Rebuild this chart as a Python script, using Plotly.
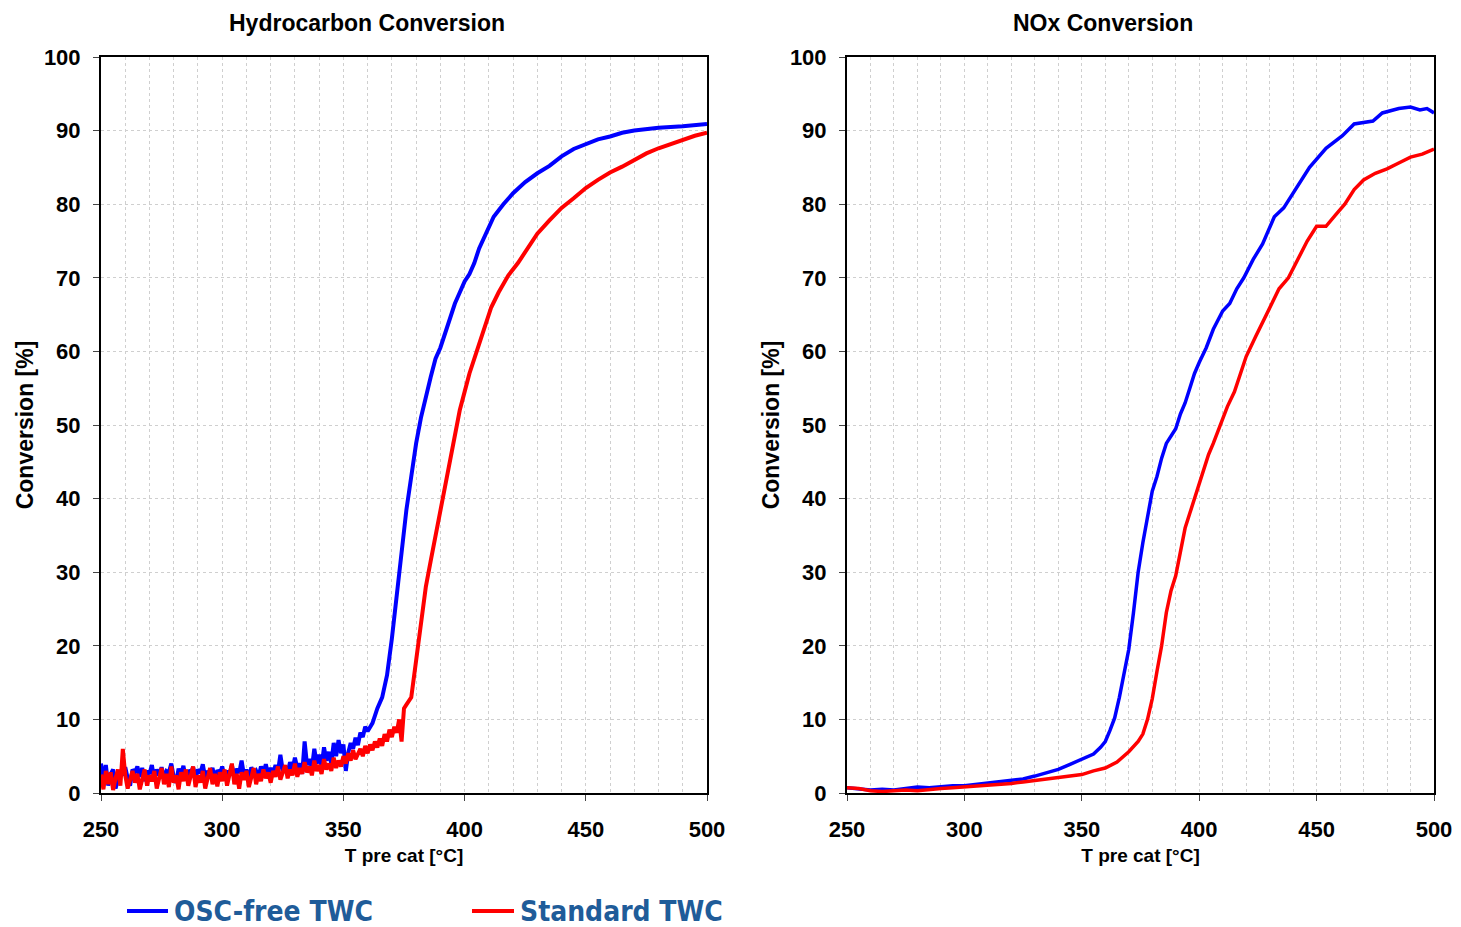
import plotly.graph_objects as go

# ---------------- data ----------------
# Hydrocarbon conversion, OSC-free TWC (1 degC steps through the noisy part)
hc_osc_T = list(range(250, 361)) + [362,364,366,368,370,372,374,376,378,380,382,384,386,388,390,392,
            394,396,398,400,402,404,406,408,412,416,420,425,430,435,440,445,450,455,460,465,470,475,
            480,490,500]
hc_osc_v = [4.0,2.0,3.8,1.0,2.6,3.2,0.6,1.8,3.0,2.4,3.5,2.0,1.0,3.2,2.8,3.6,2.2,3.4,1.6,3.0,
            2.6,3.8,1.8,3.2,2.4,3.5,2.0,3.0,2.8,4.0,2.2,1.4,3.3,2.5,3.7,1.9,3.1,2.6,3.5,2.0,
            3.2,2.7,3.9,2.1,3.0,2.4,3.4,1.8,3.1,2.6,3.6,2.2,3.0,2.5,3.8,2.0,3.3,2.7,4.4,2.4,
            3.2,1.6,3.5,2.6,3.0,2.2,3.6,2.8,3.9,2.4,3.4,2.6,3.8,2.9,5.2,3.0,3.6,2.8,4.2,3.2,
            4.8,3.4,4.0,2.6,7.0,3.8,4.6,3.4,6.0,4.0,5.2,3.6,6.2,4.4,5.6,4.0,6.8,5.0,7.2,5.4,
            6.6,3.0,5.5,6.8,6.0,7.5,6.5,8.2,7.6,9.0,8.4,
            9.5,11.5,13.0,16.0,21.0,27.0,33.0,38.5,43.0,47.5,51.0,54.0,56.5,59.0,60.5,62.5,
            64.7,66.5,68.0,69.5,70.5,72.0,74.0,75.5,78.3,80.0,81.5,83.0,84.2,85.2,86.5,87.5,
            88.2,88.8,89.2,89.7,90.0,90.2,90.4,90.6,90.9]

# Hydrocarbon conversion, Standard TWC
hc_std_T = list(range(250, 376)) + [376,378,380,382,384,386,388,390,392,394,396,398,400,402,405,
            408,411,414,418,422,426,430,435,440,445,450,455,460,465,470,475,480,485,490,495,500]
hc_std_v = [2.5,0.5,3.0,1.2,2.8,0.4,2.0,3.2,1.0,6.0,2.4,0.6,1.8,3.0,1.4,2.6,0.5,2.2,3.2,1.0,
            2.4,1.6,3.0,0.6,2.0,3.4,1.2,2.6,0.8,3.6,1.4,2.4,0.5,2.8,1.6,3.2,1.0,2.2,3.6,0.8,
            2.4,1.4,3.0,0.6,2.2,3.4,1.2,2.6,0.9,2.8,1.6,3.2,1.0,2.4,4.0,1.2,2.6,0.6,2.8,1.8,
            3.0,0.8,2.4,3.4,1.2,2.6,1.6,3.2,2.0,2.8,1.4,3.0,2.2,3.6,1.8,2.8,3.8,2.0,3.2,2.4,
            4.0,2.2,3.4,2.6,4.2,2.8,3.6,2.4,4.4,3.0,3.8,2.6,4.6,3.2,4.0,3.0,4.8,3.4,4.4,3.6,
            5.0,4.0,5.4,4.4,5.8,4.6,5.2,6.0,5.0,6.4,5.4,6.6,5.8,7.0,6.2,7.4,6.4,8.0,7.0,8.6,
            7.6,9.0,8.2,10.0,7.0,11.5,
            12.0,13.0,18.0,23.0,28.0,31.5,35.0,38.5,42.0,45.0,48.5,52.0,54.5,57.0,60.0,
            63.0,66.0,68.0,70.3,72.0,74.0,76.0,77.8,79.5,80.8,82.2,83.3,84.3,85.1,86.0,86.9,
            87.6,88.2,88.8,89.3,89.7]

# NOx conversion, OSC-free TWC
nox_osc_T = [250,255,260,265,270,275,280,285,290,295,300,305,310,315,320,325,330,335,340,345,
             350,355,358,360,362,364,366,368,370,372,374,376,378,380,382,384,386,388,390,392,
             394,396,398,400,403,406,410,413,416,419,423,427,432,436,441,447,454,461,466,474,
             478,485,490,494,497,500]
nox_osc_v = [0.7,0.6,0.4,0.5,0.4,0.6,0.8,0.7,0.9,1.0,1.0,1.2,1.3,1.5,1.7,1.9,2.3,2.7,3.2,3.9,
             4.6,5.3,6.2,7.0,8.5,10.2,13.0,16.0,19.5,24.5,30.0,34.0,37.5,41.0,43.0,45.5,47.5,48.5,49.5,51.5,
             53.0,55.0,57.0,58.5,60.5,63.0,65.5,66.5,68.5,70.0,72.5,74.6,78.3,79.5,82.0,85.0,87.6,89.3,90.9,91.3,
             92.4,93.0,93.2,92.8,93.0,92.4]

# NOx conversion, Standard TWC
nox_std_T = [250,255,260,265,270,275,280,285,290,295,300,305,310,315,320,325,330,335,340,345,
             350,355,360,365,370,374,376,378,380,382,384,386,388,390,392,394,396,398,400,402,
             404,406,408,410,412,415,418,420,424,427,430,434,438,442,446,450,454,458,462,466,
             470,475,480,485,490,495,500]
nox_std_v = [0.7,0.6,0.3,0.2,0.3,0.4,0.3,0.5,0.6,0.7,0.8,0.9,1.0,1.2,1.3,1.5,1.7,1.9,2.0,2.2,
             2.5,3.0,3.4,4.2,5.6,7.0,8.0,10.0,12.8,16.5,20.0,24.5,27.5,29.5,33.0,36.0,38.0,40.0,41.8,44.0,
             46.0,47.5,49.2,51.0,52.5,54.5,57.5,59.3,62.0,64.0,66.0,68.5,70.0,72.5,75.0,77.0,77.0,78.5,80.0,82.0,
             83.3,84.2,84.8,85.6,86.4,86.8,87.5]

series_names = ["OSC-free TWC", "Standard TWC"]
series_colors = ["#0000FF", "#FF0000"]
panel_titles = ["Hydrocarbon Conversion", "NOx Conversion"]
x_title = "T pre cat [°C]"
y_title = "Conversion [%]"

# ---------------- figure ----------------
# The page body has an 8px margin, so the figure is drawn 8px in from the top-left.
OFF = 8
W, H = 1461 - OFF, 927 - OFF
# plot area in screen pixels: x 101..1434, y 57..793
L, R, T, B = 101 - OFF, 1461 - 1434, 57 - OFF, 927 - 793
PW, PH = W - L - R, H - T - B
FONT = "Liberation Sans, Arial, sans-serif"
LEGFONT = "Liberation Sans Narrow, DejaVu Sans Condensed, sans-serif"
TXT = "#1F5C99"


def px(x):
    return (x - OFF - L) / PW


def py(y):
    return (H - B - (y - OFF)) / PH


fig = go.Figure()
fig.add_trace(go.Scatter(x=hc_osc_T, y=hc_osc_v, mode="lines", name=series_names[0],
                         line=dict(color=series_colors[0], width=4), xaxis="x", yaxis="y"))
fig.add_trace(go.Scatter(x=hc_std_T, y=hc_std_v, mode="lines", name=series_names[1],
                         line=dict(color=series_colors[1], width=4), xaxis="x", yaxis="y"))
fig.add_trace(go.Scatter(x=nox_osc_T, y=nox_osc_v, mode="lines", name=series_names[0],
                         line=dict(color=series_colors[0], width=3.5), xaxis="x2", yaxis="y2"))
fig.add_trace(go.Scatter(x=nox_std_T, y=nox_std_v, mode="lines", name=series_names[1],
                         line=dict(color=series_colors[1], width=3.5), xaxis="x2", yaxis="y2"))

tickfont = dict(family=FONT, size=22, color="#000000", weight="bold")
grid = "#cfcfcf"


def xaxis(dom, anchor):
    return dict(domain=dom, anchor=anchor, range=[250, 500], dtick=50, tick0=250,
                showgrid=True, gridcolor=grid, gridwidth=1, griddash="dot",
                minor=dict(dtick=10, showgrid=True, gridcolor=grid, gridwidth=1, griddash="dot"),
                showline=True, linecolor="#000000", linewidth=2, mirror=True,
                ticks="outside", ticklen=6, tickcolor="#444444", tickwidth=1,
                tickfont=tickfont, ticklabelstandoff=10, zeroline=False, automargin=False,
                title=dict(text="<b>" + x_title + "</b>",
                           font=dict(family=FONT, size=19, color="#000000"), standoff=7))


def yaxis(dom, anchor):
    return dict(domain=dom, anchor=anchor, range=[0, 100], dtick=10,
                showgrid=True, gridcolor=grid, gridwidth=1, griddash="dot",
                showline=True, linecolor="#000000", linewidth=2, mirror=True,
                ticks="outside", ticklen=6, tickcolor="#444444", tickwidth=1,
                tickfont=tickfont, ticklabelstandoff=8, zeroline=False, automargin=False,
                title=dict(text="<b>" + y_title + "</b>",
                           font=dict(family=FONT, size=23, color="#000000"), standoff=4))


fig.update_layout(
    width=W, height=H,
    margin=dict(l=L, r=R, t=T, b=B, autoexpand=False),
    paper_bgcolor="#ffffff", plot_bgcolor="#ffffff",
    font=dict(family=FONT),
    xaxis=xaxis([0, px(707)], "y"),
    yaxis=yaxis([0, 1], "x"),
    xaxis2=xaxis([px(847), 1], "y2"),
    yaxis2=yaxis([0, 1], "x2"),
    showlegend=False,
)

for t, cx in zip(panel_titles, [367, 1103]):
    fig.add_annotation(text="<b>" + t + "</b>", x=px(cx), y=py(8), xref="paper", yref="paper",
                       showarrow=False, xanchor="center", yanchor="top",
                       font=dict(family=FONT, size=23, color="#000000"))

# legend drawn below the left panel
for name, col, x0, x1 in zip(series_names, series_colors, [127, 472], [168, 514]):
    fig.add_shape(type="line", xref="paper", yref="paper", x0=px(x0), x1=px(x1),
                  y0=py(911), y1=py(911), line=dict(color=col, width=4))
    fig.add_annotation(text="<b>" + name + "</b>", x=px(x1 + 4), y=py(911), xref="paper",
                       yref="paper", showarrow=False, xanchor="left", yanchor="middle",
                       font=dict(family=LEGFONT, size=28, color=TXT))

fig.write_html("out.html")
